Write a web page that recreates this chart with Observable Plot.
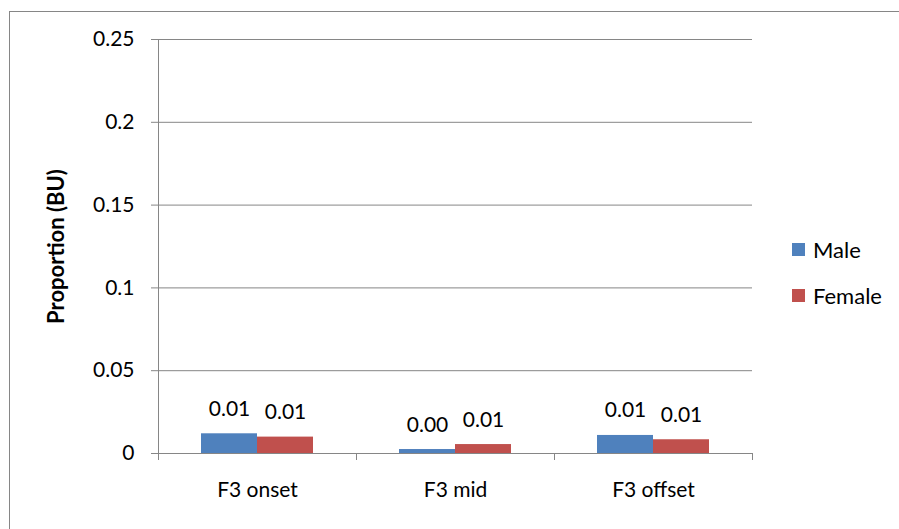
<!DOCTYPE html>
<html>
<head>
<meta charset="utf-8">
<script src="https://cdn.jsdelivr.net/npm/d3@7"></script>
<script src="https://cdn.jsdelivr.net/npm/@observablehq/plot@0.6"></script>
<style>
  html, body { margin: 0; padding: 0; background: #fff; }
  #wrap { position: relative; width: 899px; height: 529px; overflow: hidden; font-family: Lato, "Open Sans", sans-serif; }
  #border { position: absolute; left: 9px; top: 11px; width: 1000px; height: 1000px; border: 1px solid #868686; box-sizing: border-box; }
  #chart { position: absolute; left: 0; top: 0; }
  #legend { position: absolute; left: 792px; top: 236px; font-size: 22px; color: #000; }
  .item { display: flex; align-items: center; height: 27px; margin-bottom: 19px; }
  .sw { width: 13px; height: 13px; margin-right: 8px; }
</style>
</head>
<body>
<div id="wrap">
  <div id="border"></div>
  <div id="chart"></div>
  <div id="legend"></div>
</div>
<script>
const categories = ["F3 onset", "F3 mid", "F3 offset"];
const series = ["Male", "Female"];
const maleValues = [0.0119, 0.0024, 0.0109];
const femaleValues = [0.0099, 0.0054, 0.0083];
const yTicks = [0, 0.05, 0.1, 0.15, 0.2, 0.25];
const colors = ["#4F81BD", "#C0504D"];
const yLabel = "Proportion (BU)";

const data = [];
categories.forEach((c, i) => {
  data.push({cat: c, sex: series[0], value: maleValues[i]});
  data.push({cat: c, sex: series[1], value: femaleValues[i]});
});

const font = "Lato, 'Open Sans', sans-serif";
const plot = Plot.plot({
  width: 899,
  height: 529,
  marginLeft: 157,
  marginRight: 147,
  marginTop: 39,
  marginBottom: 76,
  style: {fontFamily: font, fontSize: "21px", color: "#000", background: "transparent"},
  fx: {domain: categories, padding: 0, label: null},
  x: {domain: series, paddingInner: 0, paddingOuter: 0.754, axis: null},
  y: {domain: [0, 0.25], axis: null},
  color: {domain: series, range: colors},
  marks: [
    Plot.ruleY(yTicks, {stroke: "#868686", strokeWidth: 1}),
    Plot.barY(data, {fx: "cat", x: "sex", y: "value", fill: "sex"}),
    Plot.text(data, {fx: "cat", x: "sex", y: "value", text: d => d.value.toFixed(2), dy: -18, lineAnchor: "bottom", fontSize: 21, fill: "#000"}),
    Plot.axisY({ticks: yTicks, tickSize: 7, tickPadding: 17, tickFormat: d => String(d), stroke: "#868686", fill: "#000", fontSize: 21,
      label: yLabel, labelAnchor: "center", labelOffset: 110, labelArrow: "none"}),
    Plot.axisFx({anchor: "bottom", tickSize: 0, tickPadding: 29, label: null, fontSize: 21, fill: "#000"})
  ]
});
document.getElementById("chart").appendChild(plot);

// y axis line and category boundary ticks, from the plot's own scales
const svg = d3.select(plot);
const fx = plot.scale("fx");
const y = plot.scale("y");
const y0 = y.apply(0), y1 = y.apply(0.25);
const xLeft = fx.apply(categories[0]);
const g = svg.append("g").attr("stroke", "#868686").attr("stroke-width", 1);
g.append("line").attr("x1", xLeft + 0.5).attr("x2", xLeft + 0.5).attr("y1", y1).attr("y2", y0);
const bounds = categories.map(c => fx.apply(c)).concat([fx.apply(categories[categories.length - 1]) + fx.bandwidth]);
bounds.forEach(b => {
  g.append("line").attr("x1", b + 0.5).attr("x2", b + 0.5).attr("y1", y0).attr("y2", y0 + 7);
});
svg.selectAll('[aria-label="y-axis label"]').attr("font-weight", "bold").attr("font-size", 22);
svg.selectAll('[aria-label="y-axis label"] text').attr("font-size", 22);

const legend = document.getElementById("legend");
series.forEach((s, i) => {
  const it = document.createElement("div");
  it.className = "item";
  const sw = document.createElement("div");
  sw.className = "sw";
  sw.style.background = colors[i];
  const t = document.createElement("span");
  t.textContent = s;
  it.appendChild(sw); it.appendChild(t);
  legend.appendChild(it);
});
</script>
</body>
</html>
